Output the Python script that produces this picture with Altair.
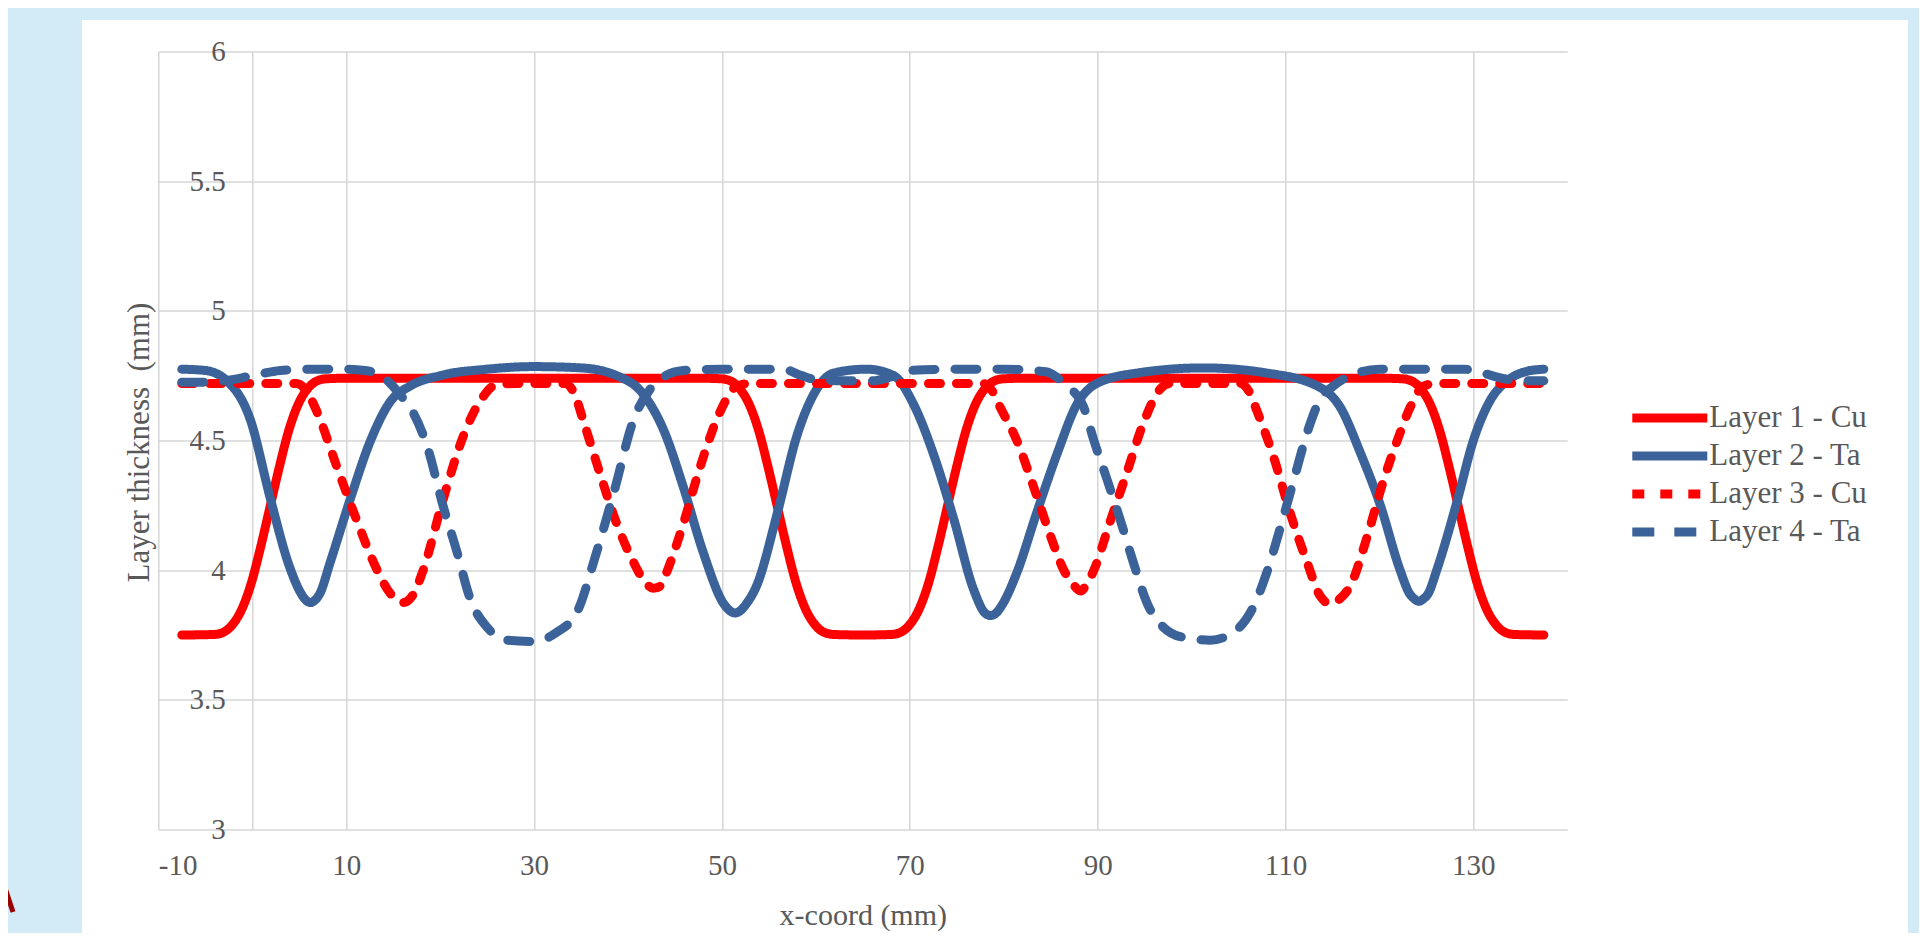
import altair as alt
import pandas as pd

# ---------------- data ----------------
series_names = ["Layer 1 - Cu", "Layer 2 - Ta", "Layer 3 - Cu", "Layer 4 - Ta"]

l1_x = [-7.5, -4.1, -3.1, -2.1, -1.1, -0.1, 0.9, 1.9, 2.9, 3.9, 4.9, 5.9, 6.9, 7.9, 9.9, 30,
        47.9, 49.9, 50.9, 51.9, 52.9, 53.9, 54.9, 55.9, 56.9, 57.9, 58.9, 59.9, 60.9, 61.9, 65,
        68, 69, 70, 71, 72, 73, 74, 75, 76, 77, 78, 79, 80, 82, 100,
        120.4, 122.4, 123.4, 124.4, 125.4, 126.4, 127.4, 128.4, 129.4, 130.4, 131.4, 132.4,
        133.4, 134.4, 137.5]
l1_y = [3.75, 3.752, 3.76, 3.79, 3.85, 3.95, 4.09, 4.245, 4.40, 4.54, 4.64, 4.70, 4.73, 4.738,
        4.74, 4.74,
        4.74, 4.738, 4.73, 4.70, 4.64, 4.54, 4.40, 4.245, 4.09, 3.95, 3.85, 3.79, 3.76, 3.752,
        3.75,
        3.752, 3.76, 3.79, 3.85, 3.95, 4.09, 4.245, 4.40, 4.54, 4.64, 4.70, 4.73, 4.738, 4.74,
        4.74,
        4.74, 4.738, 4.73, 4.70, 4.64, 4.54, 4.40, 4.245, 4.09, 3.95, 3.85, 3.79, 3.76, 3.752,
        3.75]

l2_x = [-7.5, -5, -2.7, -0.2, 1.9, 4.0, 5.2, 5.7, 6.2, 6.7, 7.2, 8.3, 10.4, 12.6, 14.7, 16.8,
        20, 25, 30, 35, 38.8, 41.6, 43.8, 45.9, 48.0, 50.2, 50.8, 51.4, 52.0, 52.6, 53.7, 55.9,
        58.0, 59.8, 61.9, 65.4, 68.3, 70.4, 72.5, 74.7, 76.8, 78.0, 78.6, 79.2, 79.9, 81.4,
        83.5, 85.7, 87.8, 89.9, 94.2, 101.3, 108.0, 113.4, 115.8, 118.0, 120.1, 122.2, 123.2,
        123.7, 124.2, 124.7, 125.2, 126.1, 128.3, 130.0, 131.8, 133.6, 135.5, 137.5]
l2_y = [4.775, 4.77, 4.73, 4.58, 4.28, 4.01, 3.91, 3.885, 3.875, 3.885, 3.91, 4.03, 4.27, 4.50,
        4.65, 4.71, 4.75, 4.775, 4.785, 4.78, 4.75, 4.68, 4.54, 4.32, 4.07, 3.87, 3.845, 3.835,
        3.845, 3.87, 3.94, 4.22, 4.52, 4.68, 4.76, 4.775, 4.75, 4.64, 4.45, 4.195, 3.925,
        3.835, 3.825, 3.835, 3.87, 3.99, 4.22, 4.45, 4.64, 4.72, 4.76, 4.78, 4.76, 4.71, 4.63,
        4.45, 4.25, 4.0, 3.91, 3.89, 3.88, 3.89, 3.91, 4.0, 4.27, 4.50, 4.655, 4.73, 4.765,
        4.775]

l3_x = [-7.5, 0, 4.7, 5.8, 6.9, 9.0, 11.1, 13.3, 14.7, 16.1, 17.2, 18.2, 20.3, 22.5, 24.6,
        25.7, 28, 33.3, 34.3, 35.3, 37.0, 38.8, 40.6, 41.7, 42.7, 43.5, 44.1, 45.9, 47.7, 49.8,
        51.6, 53, 65, 77.8, 78.8, 79.6, 81.4, 83.2, 85.0, 86.4, 87.3, 88.2, 88.9, 89.6, 91.4,
        93.1, 94.9, 96.7, 97.7, 100, 105.2, 106.1, 107.0, 108.7, 110.5, 112.3, 113.7, 114.8,
        115.8, 116.9, 118.7, 120.3, 121.9, 123.3, 124.7, 126, 137.5]
l3_y = [4.72, 4.72, 4.72, 4.69, 4.61, 4.40, 4.195, 4.0, 3.91, 3.875, 3.91, 4.0, 4.27, 4.52,
        4.67, 4.71, 4.72, 4.72, 4.68, 4.57, 4.375, 4.18, 4.03, 3.96, 3.93, 3.94, 3.99, 4.18,
        4.40, 4.61, 4.71, 4.72, 4.72, 4.72, 4.69, 4.63, 4.50, 4.32, 4.13, 4.0, 3.95, 3.92,
        3.95, 4.0, 4.195, 4.375, 4.57, 4.70, 4.72, 4.72, 4.72, 4.69, 4.61, 4.44, 4.22, 4.03,
        3.90, 3.87, 3.89, 3.94, 4.13, 4.33, 4.50, 4.63, 4.71, 4.72, 4.72]

l4_x = [-7.5, -5, -3, 0, 3, 6, 10, 12, 13.5, 14.7, 15.9, 17.1, 18.6, 20.3, 21.8, 23.2, 25.0,
        27.1, 29.9, 32.4, 34.6, 36.5, 38.5, 40.6, 42.4, 44, 45.9, 50, 56.5, 58.5, 60, 63, 66,
        68, 70, 75, 80, 84.5, 85.6, 86.4, 88.5, 89.6, 91.0, 92.4, 93.8, 95.3, 97.0, 99.2,
        102.0, 104.8, 106.6, 108.0, 109.5, 110.9, 112.3, 113.7, 115.1, 117.6, 120, 129, 131,
        133, 135, 137.5]
l4_y = [4.725, 4.725, 4.73, 4.75, 4.77, 4.775, 4.775, 4.77, 4.755, 4.72, 4.67, 4.61, 4.48,
        4.25, 4.07, 3.89, 3.78, 3.73, 3.725, 3.76, 3.84, 4.05, 4.30, 4.58, 4.70, 4.75, 4.77,
        4.775, 4.775, 4.75, 4.735, 4.73, 4.73, 4.745, 4.77, 4.775, 4.775, 4.765, 4.745, 4.72,
        4.63, 4.50, 4.35, 4.195, 4.03, 3.87, 3.78, 3.74, 3.73, 3.77, 3.86, 3.99, 4.17, 4.35,
        4.53, 4.66, 4.71, 4.76, 4.775, 4.775, 4.76, 4.74, 4.73, 4.73]

x_grid_values = [-10, 0, 10, 30, 50, 70, 90, 110, 130]
y_tick_values = [3, 3.5, 4, 4.5, 5, 5.5, 6]

series_colors = ["#ff0000", "#3b6399", "#ff0000", "#3b6399"]
series_dashes = [[1, 0], [1, 0], [12, 16], [22, 20]]
series_widths = [9, 9, 8, 8]

# ---------------- build table ----------------
rows = []
for name, xs, ys in zip(series_names, [l1_x, l2_x, l3_x, l4_x], [l1_y, l2_y, l3_y, l4_y]):
    for i, (xv, yv) in enumerate(zip(xs, ys)):
        rows.append({"series": name, "x": xv, "y": yv, "order": i})
df = pd.DataFrame(rows)

FONT = "Liberation Serif"
TXT = "#595959"
GRID = "#d6d6d6"

W, H = 1409, 778
PAD_L, PAD_T = 150.3, 43.5
CANVAS_W, CANVAS_H = 1911, 925

xscale = alt.Scale(domain=[-10, 140], nice=False, zero=False)
yscale = alt.Scale(domain=[3, 6], nice=False, zero=False)

legend_kw = dict(title=None, orient="none", legendX=1492, legendY=347,
                 padding=0, rowPadding=0, symbolType="M-2.5,0H2.5", symbolSize=900,
                 symbolStrokeWidth=8, labelOffset=20, labelFont=FONT,
                 labelFontSize=31, labelColor=TXT, labelLimit=400)

lines = alt.Chart(df).mark_line(interpolate="monotone", strokeCap="round", strokeJoin="round").encode(
    x=alt.X("x:Q", scale=xscale,
            axis=alt.Axis(values=x_grid_values, title="x-coord (mm)", grid=True, gridColor=GRID,
                          gridWidth=1.5, domain=False, ticks=False, tickSize=0, labelPadding=22,
                          labelExpr="datum.value === 0 ? '' : '' + datum.value",
                          labelFont=FONT, labelFontSize=29, labelColor=TXT,
                          titleFont=FONT, titleFontSize=30, titleColor=TXT, titleFontWeight="normal",
                          titleBaseline="middle", titleY=86)),
    y=alt.Y("y:Q", scale=yscale,
            axis=alt.Axis(values=y_tick_values, title="Layer thickness\u00a0 (mm)", grid=True,
                          gridColor=GRID, gridWidth=1.5, domain=False, ticks=False, tickSize=0,
                          labelPadding=-67, labelAlign="right", labelExpr="'' + datum.value",
                          labelFont=FONT, labelFontSize=29, labelColor=TXT,
                          titleFont=FONT, titleFontSize=31, titleColor=TXT, titleFontWeight="normal",
                          titleBaseline="middle", titleAlign="center", titleX=-19.3, titleY=390.5)),
    color=alt.Color("series:N", scale=alt.Scale(domain=series_names, range=series_colors),
                    legend=alt.Legend(**legend_kw)),
    strokeDash=alt.StrokeDash("series:N", scale=alt.Scale(domain=series_names, range=series_dashes),
                              legend=alt.Legend(**legend_kw)),
    strokeWidth=alt.StrokeWidth("series:N", scale=alt.Scale(domain=series_names, range=series_widths),
                                legend=None),
    detail="series:N",
    order="order:Q",
)

# decorative slide background strips (light blue frame around the white panel)
frame = pd.DataFrame({"k": [0]})
BLUE = "#d3ebf7"
left_strip = alt.Chart(frame).mark_rect(color=BLUE).encode(
    x=alt.value(-PAD_L - 8), x2=alt.value(82 - 8 - PAD_L), y=alt.value(-PAD_T - 8), y2=alt.value(CANVAS_H))
top_strip = alt.Chart(frame).mark_rect(color=BLUE).encode(
    x=alt.value(-PAD_L - 8), x2=alt.value(CANVAS_W), y=alt.value(-PAD_T - 8), y2=alt.value(20 - 8 - PAD_T))
right_strip = alt.Chart(frame).mark_rect(color=BLUE).encode(
    x=alt.value(1908 - 8 - PAD_L), x2=alt.value(CANVAS_W), y=alt.value(-PAD_T - 8), y2=alt.value(CANVAS_H))
red_mark = alt.Chart(frame).mark_rule(color="#990000", strokeWidth=5).encode(
    x=alt.value(0 - 8 - PAD_L), x2=alt.value(13 - 8 - PAD_L),
    y=alt.value(873 - 8 - PAD_T), y2=alt.value(912 - 8 - PAD_T))

chart = alt.layer(left_strip, top_strip, right_strip, red_mark, lines).properties(
    width=W, height=H,
    autosize=alt.AutoSizeParams(type="none"),
    padding={"left": PAD_L, "top": PAD_T, "right": CANVAS_W - PAD_L - W, "bottom": CANVAS_H - PAD_T - H},
    background="white",
).configure_view(stroke=None).configure_axis(
    labelFont=FONT, titleFont=FONT
).configure_legend(
    labelFont=FONT
)

chart.save("out.html", embed_options={"renderer": "svg", "actions": False})
